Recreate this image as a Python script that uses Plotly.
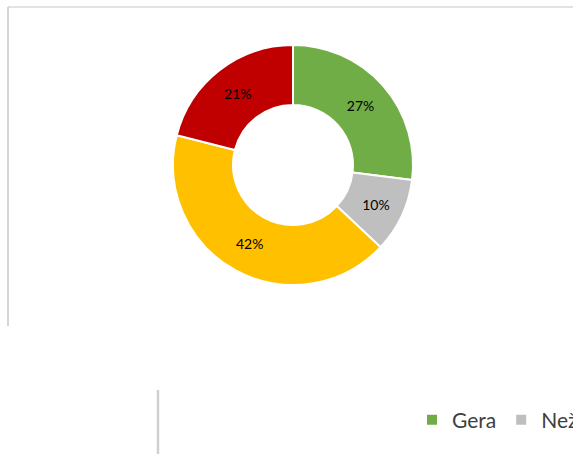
import plotly.graph_objects as go

categories = ["Gera", "Nežinau", "Vidutinė", "Bloga"]
values = [27, 10, 42, 21]
colors = ["#70AD47", "#BFBFBF", "#FFC000", "#C00000"]

W, H = 573, 454

fig = go.Figure(go.Pie(
    labels=categories,
    values=values,
    hole=0.5,
    sort=False,
    direction="clockwise",
    rotation=0,
    marker=dict(colors=colors, line=dict(color="white", width=2)),
    textinfo="percent",
    texttemplate="%{percent:.0%}",
    textposition="inside",
    insidetextorientation="horizontal",
    textfont=dict(family="Lato, Carlito, sans-serif", size=14, color="black"),
    domain=dict(x=[173 / W, 413 / W], y=[1 - 285 / H, 1 - 45 / H]),
    hoverinfo="label+percent",
))

shapes = [
    dict(type="line", xref="paper", yref="paper", x0=8 / W, x1=1.0, y0=1 - 7 / H, y1=1 - 7 / H,
         line=dict(color="#d9d9d9", width=1.5)),
    dict(type="line", xref="paper", yref="paper", x0=8 / W, x1=8 / W, y0=1 - 7 / H, y1=1 - 326 / H,
         line=dict(color="#c8c8c8", width=1.5)),
    dict(type="line", xref="paper", yref="paper", x0=158 / W, x1=158 / W, y0=1 - 390 / H, y1=0,
         line=dict(color="#d0d0d0", width=2.5)),
]

fig.update_layout(
    width=W, height=H,
    margin=dict(l=0, r=0, t=0, b=0, autoexpand=False),
    paper_bgcolor="white",
    plot_bgcolor="white",
    showlegend=True,
    legend=dict(
        orientation="h",
        x=412 / W, xanchor="left",
        y=1 - 420 / H, yanchor="middle",
        font=dict(family="Lato, Carlito, sans-serif", size=21, color="#404040"),
        bgcolor="rgba(0,0,0,0)",
    ),
    shapes=shapes,
)

fig.write_html("out.html", config={"displayModeBar": False},
               post_script="document.body.style.margin='0';")
